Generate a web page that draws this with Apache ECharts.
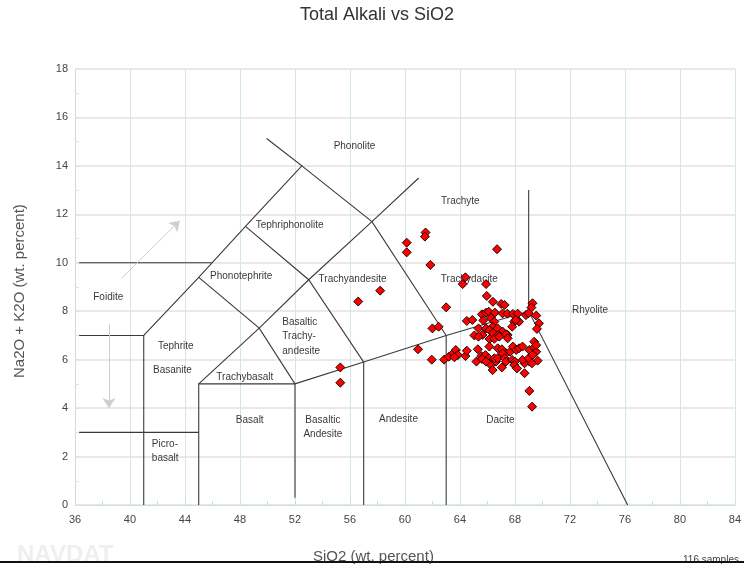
<!DOCTYPE html>
<html>
<head>
<meta charset="utf-8">
<script src="https://cdn.jsdelivr.net/npm/echarts@6/dist/echarts.min.js"></script>
<style>
  html, body { margin: 0; padding: 0; background: #fff; }
  #chart { width: 744px; height: 564px; }
</style>
</head>
<body>
<div id="chart"></div>
<script>
// Sample analyses: SiO2 (wt. %) and total alkali Na2O + K2O (wt. %)
const silica = [
  61.50, 61.45, 60.13, 60.13, 66.70, 61.85, 64.40, 64.20, 65.90, 65.95,
  63.00, 58.20, 56.60, 55.30, 55.30, 60.95, 62.00, 62.45, 61.95, 62.85,
  63.20, 63.50, 63.70, 63.85, 64.40, 64.50, 65.05, 65.20, 66.40, 67.00,
  67.25, 69.28, 69.20, 65.60, 65.90, 66.10, 66.55, 67.10, 67.45, 67.85,
  68.20, 68.30, 68.80, 69.00, 69.55, 69.75, 69.60, 64.50, 64.90, 65.70,
  66.25, 66.50, 67.95, 68.07, 65.35, 65.90, 67.80, 66.38, 66.74, 66.15,
  67.10, 66.40, 66.80, 67.47, 65.65, 65.35, 66.15, 66.50, 66.86, 67.35,
  67.47, 66.75, 67.05, 66.14, 67.35, 67.65, 67.85, 68.10, 68.30, 68.55,
  69.05, 69.40, 69.55, 69.40, 69.55, 69.65, 69.05, 68.70, 68.55, 69.00,
  69.30, 69.24, 63.60, 65.30, 65.55, 65.85, 65.60, 66.10, 66.40, 66.25,
  66.38, 66.62, 66.50, 66.75, 67.10, 67.25, 67.05, 67.35, 67.80, 68.00,
  67.95, 68.15, 68.70, 69.05, 69.25, 65.90
];
const alkali = [
  11.25, 11.08, 10.83, 10.43, 10.56, 9.91, 9.40, 9.12, 9.12, 8.63,
  8.16, 8.85, 8.40, 5.68, 5.05, 6.43, 7.29, 7.36, 6.00, 6.00,
  6.12, 6.26, 6.40, 6.19, 6.15, 6.37, 7.00, 5.92, 8.39, 8.30,
  8.26, 8.33, 8.15, 7.87, 7.94, 7.98, 7.94, 7.91, 7.90, 7.89,
  7.90, 7.57, 7.84, 7.92, 7.82, 7.50, 7.27, 7.60, 7.64, 7.62,
  7.72, 7.57, 7.57, 7.64, 7.29, 7.29, 7.36, 7.36, 7.29, 7.22,
  7.16, 7.10, 7.02, 7.02, 7.02, 6.95, 6.85, 6.86, 6.95, 7.05,
  6.88, 6.47, 6.43, 6.54, 6.26, 6.33, 6.54, 6.40, 6.47, 6.54,
  6.40, 6.51, 6.33, 6.74, 6.60, 5.96, 5.92, 5.85, 5.99, 6.06,
  6.20, 5.85, 6.10, 6.43, 6.15, 6.19, 6.03, 6.06, 5.96, 5.78,
  5.57, 5.92, 6.06, 6.06, 6.26, 6.06, 5.68, 5.92, 5.99, 5.92,
  5.78, 5.64, 5.44, 4.71, 4.06, 5.92
];

// Axis tick values
const xTicks = [36, 40, 44, 48, 52, 56, 60, 64, 68, 72, 76, 80, 84];
const yTicks = [0, 2, 4, 6, 8, 10, 12, 14, 16, 18];

// TAS field boundaries (SiO2, Na2O + K2O)
const boundaries = [
  [[36.3, 10], [45.97, 10]],
  [[36.3, 7], [41, 7], [41, 0]],
  [[36.3, 3], [45, 3]],
  [[41, 7], [45, 9.4], [48.4, 11.5], [52.5, 14], [49.94, 15.13]],
  [[45, 0], [45, 5], [52, 5], [57, 5.9], [63, 7], [69, 8]],
  [[52, 0.3], [52, 5]],
  [[57, 0], [57, 5.9]],
  [[63, 0], [63, 7]],
  [[45, 5], [49.4, 7.3], [53, 9.3], [57.6, 11.7], [61, 13.5]],
  [[45, 9.4], [49.4, 7.3], [52, 5]],
  [[48.4, 11.5], [53, 9.3], [57, 5.9]],
  [[52.5, 14], [57.6, 11.7], [63, 7]],
  [[69, 13], [69, 8], [76.2, 0]]
];

// Trend arrows beside the Foidite field
const arrows = [
  [[39.39, 9.36], [43.62, 11.74]],
  [[38.47, 7.47], [38.47, 4.0]]
];

// Field names and where they sit on the diagram
const fieldNames = [
  'Phonolite', 'Trachyte', 'Tephriphonolite', 'Phonotephrite', 'Trachyandesite',
  'Trachydacite', 'Foidite', 'Rhyolite', 'Tephrite', 'Basanite', 'Trachybasalt',
  'Basalt', 'Basaltic\nAndesite', 'Andesite', 'Dacite'
];
const fieldSilica = [56.33, 64.03, 51.61, 48.09, 56.19, 64.68, 38.42, 73.47, 43.33, 43.09, 48.35, 48.71, 54.03, 59.53, 66.94];
const fieldAlkali = [14.82, 12.55, 11.56, 9.43, 9.34, 9.33, 8.57, 8.05, 6.54, 5.55, 5.28, 3.51, 3.21, 3.54, 3.51];

// Left-aligned multi-line field names
const leftNames = ['Basaltic\nTrachy-\nandesite', 'Picro-\nbasalt'];
const leftSilica = [51.08, 41.59];
const leftAlkali = [6.96, 2.21];

const FONT = 'Liberation Sans, Arial, sans-serif';

const chart = echarts.init(document.getElementById('chart'), null, { renderer: 'canvas' });

const series = [];

series.push({
  type: 'lines',
  coordinateSystem: 'cartesian2d',
  polyline: true,
  silent: true,
  z: 2,
  lineStyle: { color: '#3a3a3a', width: 1.1, opacity: 1 },
  data: boundaries.map(c => ({ coords: c }))
});

series.push({
  type: 'lines',
  coordinateSystem: 'cartesian2d',
  silent: true,
  z: 2,
  symbol: ['none', 'arrow'],
  symbolSize: 10,
  lineStyle: { color: '#cfcfcf', width: 1, opacity: 1 },
  data: arrows.map(c => ({ coords: c }))
});

series.push({
  type: 'scatter',
  silent: true,
  z: 3,
  symbolSize: 0,
  label: {
    show: true, position: 'inside', formatter: p => p.name,
    color: '#000', fontSize: 10, fontFamily: FONT, lineHeight: 14, align: 'center'
  },
  data: fieldNames.map((n, i) => ({ name: n, value: [fieldSilica[i], fieldAlkali[i]] }))
});

series.push({
  type: 'scatter',
  silent: true,
  z: 3,
  symbolSize: 0,
  label: {
    show: true, position: 'inside', formatter: p => p.name,
    color: '#000', fontSize: 10, fontFamily: FONT, lineHeight: 14.5, align: 'left'
  },
  data: leftNames.map((n, i) => ({ name: n, value: [leftSilica[i], leftAlkali[i]] }))
});

series.push({
  type: 'scatter',
  z: 5,
  symbol: 'diamond',
  symbolSize: 9,
  itemStyle: { color: '#ff0000', borderColor: '#000', borderWidth: 0.9, opacity: 1 },
  data: silica.map((s, i) => [s, alkali[i]])
});

chart.setOption({
  animation: false,
  backgroundColor: '#fff',
  grid: { left: 75, right: 8, top: 69, bottom: 59, containLabel: false },
  xAxis: {
    type: 'value',
    min: xTicks[0], max: xTicks[xTicks.length - 1], interval: 4,
    axisLine: { show: true, lineStyle: { color: '#c9dee4', width: 1 } },
    axisTick: { show: true, inside: true, length: 4, lineStyle: { color: '#c9dee4' } },
    minorTick: { show: true, splitNumber: 2, length: 4, lineStyle: { color: '#c9dee4' } },
    splitLine: { show: true, lineStyle: { color: '#d3e6eb', width: 1 } },
    axisLabel: { color: '#444', fontSize: 11, fontFamily: FONT, margin: 9 }
  },
  yAxis: {
    type: 'value',
    min: yTicks[0], max: yTicks[yTicks.length - 1], interval: 2,
    axisLine: { show: true, lineStyle: { color: '#c9dee4', width: 1 } },
    axisTick: { show: true, inside: true, length: 4, lineStyle: { color: '#e0e0e0' } },
    minorTick: { show: true, splitNumber: 2, length: 4, lineStyle: { color: '#e0e0e0' } },
    splitLine: { show: true, lineStyle: { color: '#e9e9e9', width: 2 } },
    axisLabel: { color: '#444', fontSize: 11, fontFamily: FONT, margin: 7 }
  },
  graphic: [
    { type: 'text', x: 300, y: 6, style: { text: 'Total Alkali vs SiO2', font: '18px ' + FONT, fill: '#333' } },
    { type: 'text', rotation: Math.PI / 2, x: 12, y: 378, style: { text: 'Na2O + K2O (wt. percent)', font: '15px ' + FONT, fill: '#555', textAlign: 'left', textVerticalAlign: 'top' } },
    { type: 'text', x: 313, y: 549, style: { text: 'SiO2 (wt. percent)', font: '15px ' + FONT, fill: '#555' } },
    { type: 'text', x: 17, y: 543, style: { text: 'NAVDAT', font: 'bold 24px ' + FONT, fill: '#efefef' } },
    { type: 'text', x: 683, y: 555, style: { text: '116 samples', font: '10px ' + FONT, fill: '#444' } },
    { type: 'rect', shape: { x: 0, y: 561, width: 744, height: 2 }, style: { fill: '#111' } }
  ],
  series: series
});
</script>
</body>
</html>
